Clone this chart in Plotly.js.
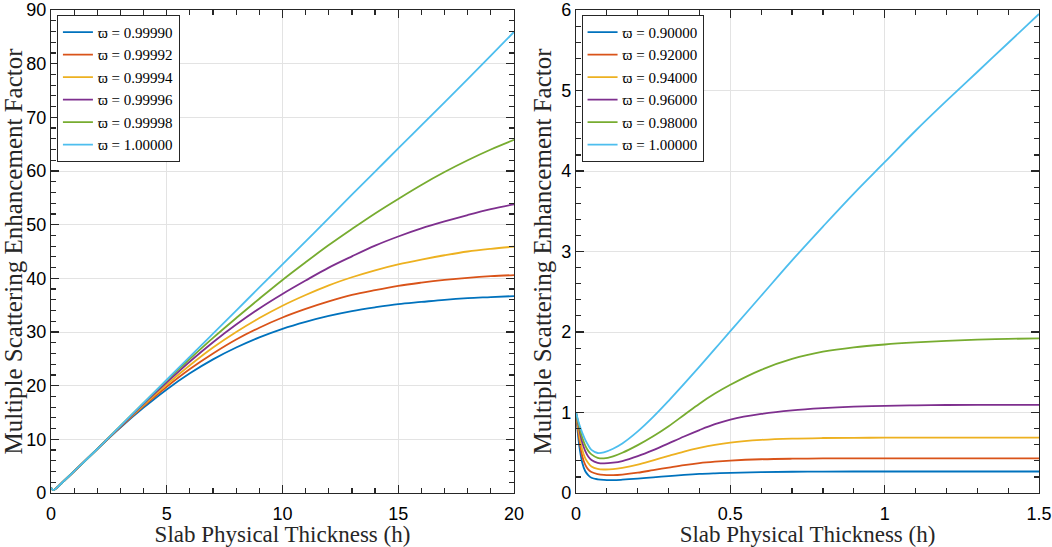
<!DOCTYPE html>
<html>
<head>
<meta charset="utf-8">
<script src="https://cdn.plot.ly/plotly-3.0.1.min.js"></script>
<style>
  html, body { margin: 0; padding: 0; background: #fff; }
  #plot { width: 1052px; height: 547px; }
</style>
</head>
<body>
<div id="plot"></div>
<script>
// Left panel: omega close to 1, thickness 0..20
const hLeft = [0, 0.1, 0.25, 0.5, 1, 2, 3, 4, 5, 6, 7, 8, 9, 10, 11, 12, 13, 14, 15, 16, 17, 18, 19, 20];
const leftLabels = ['ϖ = 0.99990', 'ϖ = 0.99992', 'ϖ = 0.99994', 'ϖ = 0.99996', 'ϖ = 0.99998', 'ϖ = 1.00000'];
const left99990 = [1, 0.52, 0.97, 2.0, 4.05, 8.2, 12.2, 15.9, 19.3, 22.3, 24.9, 27.1, 29.0, 30.6, 31.9, 33.0, 33.9, 34.6, 35.2, 35.6, 36.0, 36.3, 36.5, 36.7];
const left99992 = [1, 0.52, 0.97, 2.0, 4.05, 8.2, 12.3, 16.2, 19.8, 23.1, 26.0, 28.6, 30.8, 32.7, 34.3, 35.7, 36.9, 37.8, 38.6, 39.2, 39.7, 40.1, 40.4, 40.6];
const left99994 = [1, 0.52, 0.97, 2.0, 4.05, 8.2, 12.4, 16.4, 20.2, 23.8, 27.1, 30.0, 32.6, 34.9, 36.9, 38.7, 40.2, 41.5, 42.6, 43.5, 44.3, 45.0, 45.5, 45.9];
const left99996 = [1, 0.52, 0.97, 2.0, 4.05, 8.2, 12.4, 16.6, 20.6, 24.5, 28.1, 31.4, 34.4, 37.1, 39.6, 42.0, 44.1, 46.1, 47.8, 49.3, 50.6, 51.8, 52.9, 53.8];
const left99998 = [1, 0.52, 0.97, 2.0, 4.05, 8.2, 12.5, 16.8, 21.0, 25.0, 28.9, 32.6, 36.2, 39.7, 43.0, 46.2, 49.2, 52.1, 54.8, 57.4, 59.8, 62.0, 64.0, 65.8];
const left100000 = [1, 0.52, 0.97, 2.0, 4.05, 8.2, 12.5, 16.8, 21.1, 25.4, 29.7, 34.0, 38.3, 42.6, 46.9, 51.2, 55.6, 59.9, 64.2, 68.5, 72.8, 77.1, 81.5, 85.9];

// Right panel: omega 0.90..1.00, thickness 0..1.5
const hRight = [0, 0.01, 0.02, 0.03, 0.04, 0.05, 0.07, 0.09, 0.12, 0.15, 0.2, 0.25, 0.3, 0.35, 0.4, 0.45, 0.5, 0.6, 0.7, 0.8, 0.9, 1.0, 1.1, 1.2, 1.3, 1.4, 1.5];
const rightLabels = ['ϖ = 0.90000', 'ϖ = 0.92000', 'ϖ = 0.94000', 'ϖ = 0.96000', 'ϖ = 0.98000', 'ϖ = 1.00000'];
const right90 = [1, 0.6, 0.38, 0.27, 0.22, 0.19, 0.17, 0.162, 0.16, 0.165, 0.178, 0.194, 0.21, 0.225, 0.237, 0.245, 0.251, 0.259, 0.264, 0.266, 0.267, 0.267, 0.267, 0.267, 0.267, 0.267, 0.267];
const right92 = [1, 0.68, 0.46, 0.35, 0.29, 0.26, 0.235, 0.224, 0.222, 0.229, 0.252, 0.284, 0.316, 0.347, 0.372, 0.39, 0.403, 0.419, 0.426, 0.429, 0.43, 0.43, 0.43, 0.43, 0.43, 0.43, 0.43];
const right94 = [1, 0.74, 0.54, 0.43, 0.37, 0.33, 0.30, 0.292, 0.296, 0.312, 0.352, 0.406, 0.462, 0.515, 0.56, 0.598, 0.627, 0.66, 0.676, 0.683, 0.686, 0.687, 0.688, 0.688, 0.688, 0.688, 0.688];
const right96 = [1, 0.8, 0.63, 0.52, 0.45, 0.41, 0.375, 0.367, 0.376, 0.397, 0.457, 0.532, 0.617, 0.702, 0.782, 0.855, 0.912, 0.982, 1.027, 1.054, 1.072, 1.083, 1.089, 1.093, 1.095, 1.095, 1.095];
const right98 = [1, 0.83, 0.69, 0.59, 0.52, 0.48, 0.437, 0.43, 0.455, 0.5, 0.595, 0.705, 0.83, 0.97, 1.11, 1.235, 1.345, 1.53, 1.665, 1.755, 1.81, 1.845, 1.87, 1.89, 1.905, 1.915, 1.92];
const right100 = [1, 0.86, 0.75, 0.66, 0.59, 0.535, 0.497, 0.505, 0.55, 0.615, 0.765, 0.945, 1.145, 1.355, 1.57, 1.79, 2.01, 2.45, 2.89, 3.31, 3.72, 4.11, 4.5, 4.87, 5.23, 5.59, 5.95];

const colors = ['#0072BD', '#D95319', '#EDB120', '#7E2F8E', '#77AC30', '#4DBEEE'];
const leftSeries = [left99990, left99992, left99994, left99996, left99998, left100000];
const rightSeries = [right90, right92, right94, right96, right98, right100];

const traces = [];
leftSeries.forEach((ys, i) => {
  traces.push({
    type: 'scatter', mode: 'lines', x: hLeft, y: ys, name: leftLabels[i],
    line: { color: colors[i], width: 1.8, shape: 'spline', smoothing: 1 },
    xaxis: 'x', yaxis: 'y', legend: 'legend',
  });
});
rightSeries.forEach((ys, i) => {
  traces.push({
    type: 'scatter', mode: 'lines', x: hRight, y: ys, name: rightLabels[i],
    line: { color: colors[i], width: 1.8, shape: 'spline', smoothing: 1 },
    xaxis: 'x2', yaxis: 'y2', legend: 'legend2',
  });
});

const ink = '#262626';
const tickFont = { family: 'Liberation Sans, Arial, sans-serif', size: 18, color: '#000' };
const xTitleFont = { family: 'Liberation Serif, Times New Roman, serif', size: 23, color: ink };
const yTitleFont = { family: 'Liberation Serif, Times New Roman, serif', size: 25, color: ink };

// major + minor ticks drawn inside, repeated on the opposite edge
const minor = (d) => ({ dtick: d, ticks: 'inside', ticklen: 5, tickwidth: 1.2, tickcolor: ink, showgrid: false });

function axis(extra) {
  return Object.assign({
    showline: true, linecolor: ink, linewidth: 1.2, mirror: 'ticks',
    ticks: 'inside', ticklen: 8, tickwidth: 1.2, tickcolor: ink,
    showgrid: true, gridcolor: '#e3e3e3', gridwidth: 1, zeroline: false,
    tickfont: tickFont, ticklabeloverflow: 'allow',
  }, extra);
}

const legendStyle = {
  bgcolor: '#fff', bordercolor: ink, borderwidth: 1,
  font: { family: 'Liberation Serif, Times New Roman, serif', size: 15, color: '#000' },
  xanchor: 'left', yanchor: 'top', tracegroupgap: 0, itemwidth: 30,
};

const layout = {
  width: 1052, height: 547,
  paper_bgcolor: '#fff', plot_bgcolor: '#fff',
  margin: { l: 51, r: 13, t: 10, b: 54 },
  showlegend: true,
  xaxis: axis({
    domain: [0, 0.4686], range: [0, 20], dtick: 5, anchor: 'y', minor: minor(1), ticklabelstandoff: 4,
    title: { text: 'Slab Physical Thickness (h)', font: xTitleFont, standoff: 4 },
  }),
  yaxis: axis({
    domain: [0, 1], range: [0, 90], dtick: 10, anchor: 'x', minor: minor(2),
    title: { text: 'Multiple Scattering Enhancement Factor', font: yTitleFont, standoff: 2 },
  }),
  xaxis2: axis({
    domain: [0.5314, 1], range: [0, 1.5], dtick: 0.5, anchor: 'y2', minor: minor(0.1), ticklabelstandoff: 4,
    title: { text: 'Slab Physical Thickness (h)', font: xTitleFont, standoff: 4 },
  }),
  yaxis2: axis({
    domain: [0, 1], range: [0, 6], dtick: 1, anchor: 'x2', minor: minor(0.2),
    title: { text: 'Multiple Scattering Enhancement Factor', font: yTitleFont, standoff: 2 },
  }),
  legend: Object.assign({ x: 0.006, y: 0.99, xref: 'paper', yref: 'paper' }, legendStyle),
  legend2: Object.assign({ x: 0.537, y: 0.99, xref: 'paper', yref: 'paper' }, legendStyle),
};

Plotly.newPlot('plot', traces, layout, { displayModeBar: false, staticPlot: true });
</script>
</body>
</html>
